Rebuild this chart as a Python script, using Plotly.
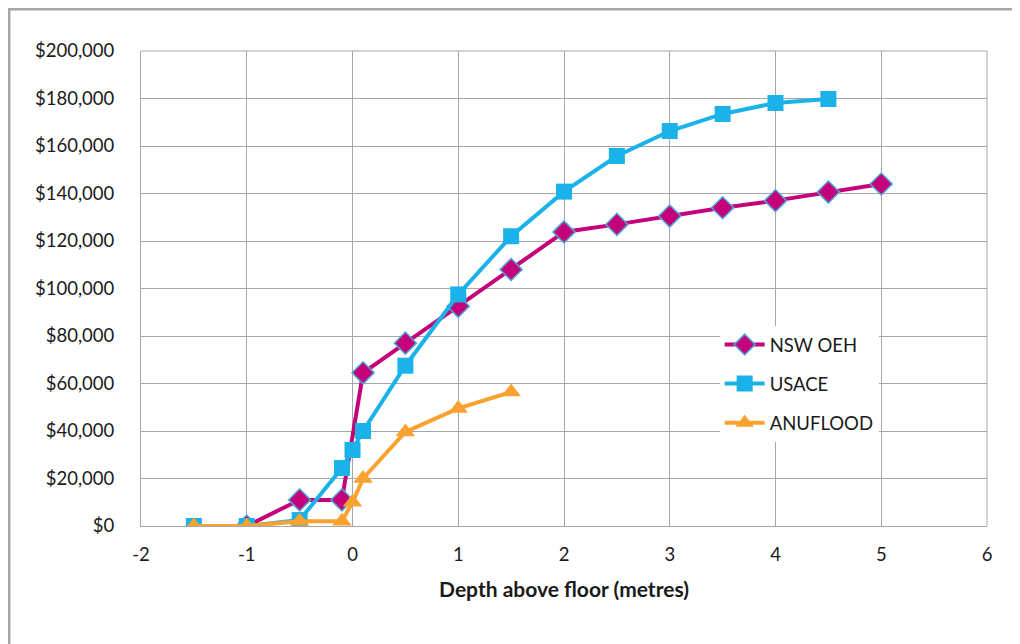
import plotly.graph_objects as go

nsw_x = [-1, -0.5, -0.1, 0.1, 0.5, 1, 1.5, 2, 2.5, 3, 3.5, 4, 4.5, 5]
nsw_y = [0, 11000, 11000, 64500, 77000, 92500, 108000, 123800, 127000, 130500, 134000, 137000, 140600, 144000]

usace_x = [-1.5, -1, -0.5, -0.1, 0, 0.1, 0.5, 1, 1.5, 2, 2.5, 3, 3.5, 4, 4.5]
usace_y = [0, 0, 2500, 24400, 32000, 40000, 67500, 97500, 122000, 140800, 155800, 166300, 173500, 178100, 179800]

anu_x = [-1.5, -1, -0.5, -0.1, 0, 0.1, 0.5, 1, 1.5]
anu_y = [0, 0, 2000, 2000, 10000, 20000, 39600, 49500, 56400]

x_ticks = [-2, -1, 0, 1, 2, 3, 4, 5, 6]
y_ticks = [0, 20000, 40000, 60000, 80000, 100000, 120000, 140000, 160000, 180000, 200000]
y_labels = ["$" + format(v, ",") for v in y_ticks]

FONT = "Lato, 'Open Sans', sans-serif"
GRID = "#A6A6A6"
TXT = "#1a1a1a"

fig = go.Figure()
fig.add_trace(go.Scatter(
    x=nsw_x, y=nsw_y, name="NSW OEH", mode="lines+markers", legendgroup="a",
    line=dict(color="#C4007A", width=4),
    marker=dict(symbol="diamond", size=17, color="#C4007A", line=dict(color="#4FA8D8", width=1.5)),
))
fig.add_trace(go.Scatter(
    x=usace_x, y=usace_y, name="USACE", mode="lines+markers", legendgroup="b",
    line=dict(color="#1AB2E8", width=4),
    marker=dict(symbol="square", size=16, color="#1AB2E8"),
))
fig.add_trace(go.Scatter(
    x=anu_x, y=anu_y, name="ANUFLOOD", mode="lines+markers", legendgroup="c",
    line=dict(color="#F9A230", width=4),
    marker=dict(symbol="triangle-up", size=17, color="#F9A230"),
))

fig.update_layout(
    width=1012, height=636,
    margin=dict(l=133, r=33, t=43, b=118),
    paper_bgcolor="white", plot_bgcolor="white",
    font=dict(family=FONT, size=18, color=TXT),
    showlegend=True,
    legend=dict(
        x=0.684, y=0.421, xanchor="left", yanchor="top",
        bgcolor="white", font=dict(size=18.5, family=FONT, color=TXT),
        tracegroupgap=12, traceorder="grouped",
        itemwidth=40,
    ),
    xaxis=dict(
        range=[-2, 6], tickvals=x_ticks, ticktext=[str(v) for v in x_ticks],
        showgrid=True, gridcolor=GRID, gridwidth=1,
        showline=True, linecolor=GRID, linewidth=1, mirror=False,
        zeroline=False, ticks="", ticklabelstandoff=12,
        tickfont=dict(size=18.5, family=FONT, color=TXT),
        title=dict(text="<b>Depth above floor (metres)</b>", font=dict(size=21, family=FONT, color=TXT), standoff=18),
    ),
    yaxis=dict(
        range=[0, 200000], tickvals=y_ticks, ticktext=y_labels,
        showgrid=True, gridcolor=GRID, gridwidth=1,
        showline=True, linecolor=GRID, linewidth=1,
        zeroline=False, ticks="", ticklabelstandoff=22,
        tickfont=dict(size=18.5, family=FONT, color=TXT),
    ),
    shapes=[
        dict(type="rect", xref="paper", yref="paper",
             x0=-0.1558, x1=1.1, y0=-0.3, y1=1.088,
             line=dict(color="#A6A6A6", width=2.5), fillcolor="rgba(0,0,0,0)", layer="below"),
        dict(type="line", xref="paper", yref="paper", x0=1, x1=1, y0=0, y1=1,
             line=dict(color=GRID, width=1), layer="below"),
        dict(type="line", xref="paper", yref="paper", x0=0, x1=1, y0=1, y1=1,
             line=dict(color=GRID, width=1), layer="below"),
    ],
)

fig.write_html("out.html")
